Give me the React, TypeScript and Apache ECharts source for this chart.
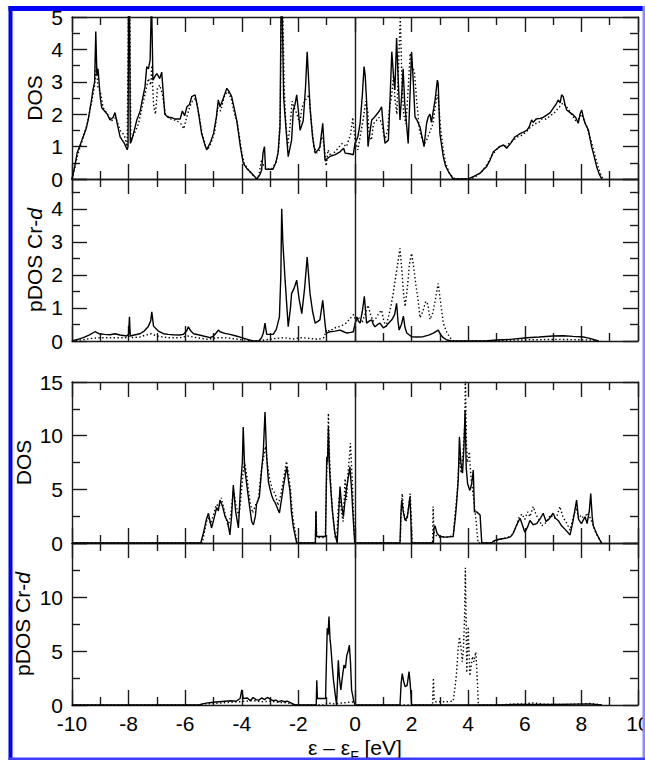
import React, { useEffect, useRef } from 'react';
import * as echarts from 'echarts';

const FONT = '"Liberation Sans", Arial, Helvetica, sans-serif';

// x tick labels (eV)
const xTickLabels = [-10, -8, -6, -4, -2, 0, 2, 4, 6, 8, 10];
// y axis ranges per panel: [min, max, interval]
const yRange1 = [0, 5, 1];
const yRange2 = [0, 4.9, 1];
const yRange3 = [0, 15, 5];
const yRange4 = [0, 15, 5];
const yNames = ['DOS', 'pDOS Cr-d', 'DOS', 'pDOS Cr-d'];

// Panel 1: total DOS (solid / dotted)
const dos1Solid: number[][] = [
  [-10, 0], [-9.9, 0.4], [-9.82, 0.8], [-9.65, 1.2], [-9.5, 1.55], [-9.43, 1.82], [-9.3, 2.5], [-9.26, 2.75], [-9.2, 3.0], [-9.16, 4.55], [-9.12, 3.2], [-9.08, 3.4], [-9.0, 2.5], [-8.95, 2.2], [-8.85, 2.1], [-8.75, 2.0], [-8.66, 1.82], [-8.55, 1.9], [-8.48, 2.05], [-8.4, 1.7], [-8.3, 1.3], [-8.15, 1.1], [-8.05, 0.9], [-8.02, 1.0], [-8.0, 5.6], [-7.97, 5.6], [-7.94, 1.1], [-7.89, 1.2], [-7.8, 1.5], [-7.71, 1.82], [-7.59, 2.1], [-7.5, 2.5], [-7.42, 2.85], [-7.36, 3.47], [-7.3, 3.4], [-7.24, 3.67], [-7.19, 5.6], [-7.17, 5.6], [-7.14, 3.05], [-7.05, 3.2], [-7.0, 3.25], [-6.9, 3.1], [-6.83, 3.3], [-6.72, 2.0], [-6.6, 1.9], [-6.5, 1.9], [-6.35, 1.85], [-6.18, 1.85], [-6.1, 2.1], [-6.02, 1.95], [-5.94, 2.23], [-5.85, 2.3], [-5.77, 2.54], [-5.65, 2.6], [-5.54, 2.1], [-5.42, 1.4], [-5.3, 1.05], [-5.24, 0.9], [-5.1, 1.15], [-5.0, 1.4], [-4.9, 1.9], [-4.83, 2.44], [-4.77, 2.23], [-4.65, 2.5], [-4.53, 2.8], [-4.45, 2.7], [-4.36, 2.55], [-4.25, 2.1], [-4.18, 1.82], [-4.05, 1.0], [-3.95, 0.49], [-3.8, 0.3], [-3.71, 0.23], [-3.55, 0.08], [-3.47, 0.0], [-3.35, 0.15], [-3.3, 0.28], [-3.25, 0.8], [-3.2, 1.0], [-3.16, 0.3], [-3.0, 0.3], [-2.9, 0.3], [-2.8, 0.5], [-2.72, 0.8], [-2.65, 1.6], [-2.61, 5.6], [-2.58, 5.6], [-2.52, 2.5], [-2.47, 1.92], [-2.36, 0.69], [-2.24, 1.2], [-2.18, 2.13], [-2.12, 2.3], [-2.06, 2.6], [-2.0, 2.1], [-1.94, 1.5], [-1.83, 1.8], [-1.75, 2.8], [-1.69, 3.93], [-1.59, 2.22], [-1.5, 1.3], [-1.41, 0.8], [-1.3, 0.9], [-1.24, 1.0], [-1.14, 1.72], [-1.06, 0.58], [-0.95, 0.65], [-0.88, 0.7], [-0.7, 0.75], [-0.53, 0.84], [-0.4, 0.95], [-0.35, 0.8], [-0.2, 0.78], [-0.06, 0.75], [0, 1.1], [0.1, 1.3], [0.18, 1.72], [0.26, 2.6], [0.32, 3.47], [0.36, 3.2], [0.41, 2.4], [0.46, 1.0], [0.52, 1.4], [0.59, 1.82], [0.68, 1.9], [0.77, 2.0], [0.86, 2.1], [0.94, 2.23], [1.0, 1.6], [1.06, 1.1], [1.18, 1.2], [1.24, 2.5], [1.3, 3.93], [1.36, 3.2], [1.41, 2.75], [1.47, 4.35], [1.53, 3.0], [1.59, 1.82], [1.65, 2.6], [1.7, 3.4], [1.76, 2.3], [1.83, 1.6], [1.88, 1.1], [1.94, 2.5], [2.0, 3.93], [2.06, 3.0], [2.12, 1.92], [2.2, 1.8], [2.3, 1.6], [2.44, 1.0], [2.53, 1.72], [2.59, 1.92], [2.65, 2.0], [2.7, 1.75], [2.83, 2.44], [2.91, 3.05], [2.94, 2.95], [3.0, 1.4], [3.12, 0.69], [3.2, 0.4], [3.3, 0.23], [3.47, 0], [4.0, 0], [4.2, 0.08], [4.42, 0.18], [4.55, 0.3], [4.65, 0.38], [4.78, 0.6], [4.89, 0.84], [5.0, 0.92], [5.12, 1.0], [5.25, 1.05], [5.36, 0.95], [5.5, 1.1], [5.65, 1.3], [5.75, 1.35], [5.83, 1.4], [5.95, 1.45], [6.07, 1.5], [6.15, 1.6], [6.24, 1.82], [6.3, 1.75], [6.4, 1.85], [6.54, 1.87], [6.65, 1.9], [6.77, 1.97], [6.9, 2.05], [7.0, 2.18], [7.1, 2.3], [7.18, 2.44], [7.25, 2.35], [7.3, 2.6], [7.36, 2.54], [7.42, 2.3], [7.48, 2.13], [7.6, 2.05], [7.72, 1.97], [7.8, 1.9], [7.89, 1.72], [7.95, 2.0], [8.01, 2.13], [8.07, 1.9], [8.13, 1.72], [8.25, 1.5], [8.36, 1.0], [8.45, 0.7], [8.54, 0.38], [8.63, 0.15], [8.72, 0]
];
const dos1Dotted: number[][] = [
  [-10, 0], [-9.9, 0.35], [-9.8, 0.75], [-9.65, 1.15], [-9.45, 1.75], [-9.3, 2.4], [-9.2, 2.9], [-9.14, 3.5], [-9.08, 2.8], [-9.0, 2.7], [-8.9, 2.2], [-8.75, 2.0], [-8.6, 1.8], [-8.45, 1.9], [-8.3, 1.5], [-8.15, 1.35], [-8.05, 1.0], [-8.0, 5.6], [-7.96, 5.6], [-7.92, 1.2], [-7.8, 1.4], [-7.65, 1.7], [-7.5, 2.3], [-7.4, 2.7], [-7.3, 3.1], [-7.22, 2.9], [-7.18, 3.5], [-7.12, 2.3], [-7.05, 2.0], [-6.98, 2.8], [-6.9, 2.9], [-6.8, 2.6], [-6.7, 2.0], [-6.5, 1.85], [-6.3, 1.8], [-6.15, 1.7], [-6.05, 1.55], [-5.95, 1.9], [-5.85, 2.2], [-5.75, 2.4], [-5.62, 2.5], [-5.5, 1.9], [-5.4, 1.4], [-5.28, 1.0], [-5.2, 0.9], [-5.05, 1.2], [-4.95, 1.5], [-4.85, 2.2], [-4.75, 2.1], [-4.6, 2.6], [-4.5, 2.7], [-4.38, 2.5], [-4.25, 2.0], [-4.15, 1.7], [-4.0, 0.8], [-3.9, 0.45], [-3.7, 0.2], [-3.5, 0.02], [-3.4, 0.1], [-3.3, 0.6], [-3.25, 0.45], [-3.15, 0.3], [-2.95, 0.3], [-2.8, 0.5], [-2.7, 0.9], [-2.64, 2.0], [-2.6, 5.6], [-2.56, 5.6], [-2.5, 2.8], [-2.45, 1.8], [-2.38, 1.0], [-2.3, 1.6], [-2.22, 2.4], [-2.15, 2.2], [-2.05, 2.0], [-1.95, 1.7], [-1.88, 2.2], [-1.78, 2.4], [-1.7, 2.5], [-1.62, 2.6], [-1.55, 1.8], [-1.45, 1.0], [-1.35, 0.8], [-1.25, 0.9], [-1.18, 1.3], [-1.1, 1.1], [-1.02, 0.4], [-0.95, 0.9], [-0.85, 0.7], [-0.7, 0.85], [-0.55, 1.0], [-0.45, 1.1], [-0.3, 1.0], [-0.15, 1.4], [-0.08, 1.9], [0.0, 1.2], [0.1, 0.9], [0.2, 1.4], [0.3, 1.9], [0.38, 2.4], [0.45, 2.1], [0.5, 1.4], [0.58, 1.2], [0.65, 1.7], [0.75, 1.8], [0.85, 1.9], [0.95, 1.7], [1.05, 1.2], [1.15, 1.5], [1.22, 2.2], [1.3, 2.6], [1.36, 3.2], [1.42, 2.4], [1.48, 2.0], [1.54, 3.6], [1.6, 4.97], [1.66, 3.0], [1.72, 2.0], [1.8, 1.7], [1.88, 2.8], [1.95, 3.88], [2.02, 3.5], [2.1, 3.3], [2.18, 2.4], [2.28, 1.5], [2.38, 1.2], [2.46, 1.1], [2.53, 1.2], [2.62, 1.4], [2.75, 1.7], [2.83, 2.2], [2.9, 2.6], [2.95, 2.4], [3.02, 1.6], [3.12, 0.9], [3.2, 0.5], [3.32, 0.2], [3.45, 0.05], [3.55, 0], [4.1, 0], [4.3, 0.1], [4.5, 0.25], [4.7, 0.5], [4.85, 0.75], [5.0, 0.9], [5.15, 1.05], [5.3, 1.0], [5.45, 1.1], [5.6, 1.2], [5.75, 1.3], [5.9, 1.35], [6.05, 1.45], [6.2, 1.6], [6.35, 1.7], [6.5, 1.75], [6.6, 1.85], [6.75, 1.85], [6.9, 1.95], [7.05, 2.05], [7.2, 2.2], [7.35, 2.35], [7.5, 2.2], [7.65, 2.0], [7.8, 1.8], [7.9, 1.85], [8.0, 2.0], [8.1, 1.8], [8.2, 1.6], [8.3, 1.3], [8.4, 1.0], [8.5, 0.65], [8.6, 0.35], [8.7, 0.1], [8.78, 0]
];

// Panel 2: Cr-d projected DOS
const pdos2Solid: number[][] = [
  [-10, 0], [-9.8, 0.05], [-9.6, 0.1], [-9.4, 0.18], [-9.19, 0.28], [-9.05, 0.22], [-8.85, 0.2], [-8.66, 0.19], [-8.48, 0.22], [-8.3, 0.18], [-8.07, 0.15], [-8.0, 0.2], [-7.97, 0.73], [-7.94, 0.15], [-7.8, 0.18], [-7.6, 0.22], [-7.45, 0.3], [-7.31, 0.43], [-7.22, 0.6], [-7.18, 0.88], [-7.12, 0.45], [-6.95, 0.3], [-6.77, 0.22], [-6.6, 0.2], [-6.42, 0.19], [-6.2, 0.18], [-6.07, 0.2], [-5.95, 0.3], [-5.89, 0.43], [-5.8, 0.3], [-5.7, 0.22], [-5.5, 0.18], [-5.36, 0.15], [-5.12, 0.1], [-5.0, 0.15], [-4.9, 0.25], [-4.83, 0.33], [-4.77, 0.28], [-4.6, 0.23], [-4.42, 0.2], [-4.2, 0.15], [-4.0, 0.1], [-3.8, 0.05], [-3.6, 0], [-3.4, 0], [-3.3, 0.1], [-3.24, 0.24], [-3.18, 0.54], [-3.12, 0.2], [-3.0, 0.2], [-2.89, 0.2], [-2.78, 0.35], [-2.67, 0.73], [-2.62, 2.0], [-2.59, 4.0], [-2.55, 3.0], [-2.47, 1.84], [-2.36, 0.43], [-2.28, 1.0], [-2.24, 1.44], [-2.15, 1.6], [-2.06, 1.84], [-1.98, 1.3], [-1.88, 0.83], [-1.78, 1.6], [-1.69, 2.54], [-1.59, 1.44], [-1.5, 0.9], [-1.41, 0.54], [-1.3, 0.6], [-1.24, 0.64], [-1.14, 1.23], [-1.06, 0.54], [-1.02, 0.24], [-0.88, 0.28], [-0.7, 0.3], [-0.53, 0.33], [-0.4, 0.28], [-0.29, 0.24], [-0.15, 0.26], [-0.06, 0.28], [0.06, 0.73], [0.12, 0.6], [0.18, 0.54], [0.26, 0.9], [0.33, 1.35], [0.41, 0.54], [0.5, 0.6], [0.59, 0.64], [0.65, 0.5], [0.71, 0.43], [0.8, 0.5], [0.88, 0.54], [1.0, 0.4], [1.1, 0.45], [1.2, 0.55], [1.3, 0.64], [1.4, 0.8], [1.47, 1.14], [1.52, 0.6], [1.56, 0.33], [1.64, 0.5], [1.71, 0.75], [1.77, 0.4], [1.83, 0.24], [2.0, 0.13], [2.2, 0.12], [2.41, 0.13], [2.6, 0.18], [2.77, 0.24], [2.94, 0.33], [3.02, 0.2], [3.12, 0.1], [3.25, 0.03], [3.42, 0], [4.6, 0], [5.0, 0.03], [5.5, 0.05], [6.07, 0.1], [6.5, 0.12], [7.0, 0.15], [7.36, 0.16], [7.7, 0.14], [8.07, 0.12], [8.3, 0.08], [8.6, 0]
];
const pdos2Dotted: number[][] = [
  [-10, 0], [-9.7, 0.03], [-9.3, 0.08], [-9.0, 0.1], [-8.7, 0.1], [-8.4, 0.1], [-8.1, 0.1], [-8.0, 0.15], [-7.9, 0.1], [-7.6, 0.12], [-7.4, 0.18], [-7.2, 0.22], [-7.0, 0.15], [-6.6, 0.1], [-6.2, 0.1], [-5.9, 0.15], [-5.6, 0.1], [-5.2, 0.05], [-4.9, 0.1], [-4.6, 0.1], [-4.2, 0.06], [-3.8, 0.02], [-3.5, 0], [-3.2, 0.03], [-2.8, 0.08], [-2.5, 0.1], [-2.2, 0.06], [-1.9, 0.1], [-1.6, 0.08], [-1.3, 0.05], [-1.1, 0.1], [-1.0, 0.35], [-0.9, 0.3], [-0.7, 0.4], [-0.5, 0.45], [-0.3, 0.55], [-0.15, 0.7], [-0.05, 0.8], [0.05, 0.6], [0.15, 0.7], [0.25, 0.55], [0.35, 0.8], [0.46, 1.08], [0.55, 0.8], [0.64, 0.6], [0.75, 0.7], [0.85, 0.85], [0.94, 0.93], [1.02, 0.6], [1.1, 0.43], [1.2, 0.8], [1.28, 1.1], [1.35, 1.44], [1.43, 1.9], [1.52, 2.4], [1.59, 2.8], [1.65, 2.2], [1.72, 1.4], [1.77, 1.04], [1.85, 1.6], [1.92, 2.3], [2.0, 2.65], [2.08, 2.2], [2.15, 1.7], [2.22, 1.3], [2.3, 0.7], [2.4, 0.9], [2.5, 1.2], [2.58, 1.1], [2.65, 0.65], [2.75, 0.85], [2.85, 1.3], [2.94, 1.74], [3.02, 1.2], [3.12, 0.54], [3.25, 0.25], [3.36, 0.1], [3.5, 0], [4.8, 0], [5.2, 0.02], [5.8, 0.03], [6.5, 0.04], [7.2, 0.05], [7.8, 0.04], [8.3, 0.03], [8.7, 0]
];

// Panel 3: total DOS (second system)
const dos3Solid: number[][] = [
  [-10, 0], [-5.45, 0], [-5.35, 1.0], [-5.25, 2.2], [-5.18, 2.77], [-5.12, 2.0], [-5.07, 1.4], [-4.98, 2.3], [-4.89, 3.3], [-4.83, 3.0], [-4.77, 4.0], [-4.68, 3.4], [-4.59, 2.45], [-4.5, 2.0], [-4.42, 0.75], [-4.36, 2.5], [-4.3, 5.4], [-4.22, 3.0], [-4.12, 1.4], [-4.04, 5.5], [-3.98, 7.5], [-3.95, 10.8], [-3.9, 7.0], [-3.85, 6.0], [-3.78, 4.5], [-3.71, 3.1], [-3.65, 2.0], [-3.59, 1.68], [-3.52, 2.5], [-3.48, 3.6], [-3.38, 4.3], [-3.3, 6.8], [-3.24, 8.5], [-3.18, 12.2], [-3.12, 8.0], [-3.06, 5.7], [-3.0, 5.0], [-2.94, 4.4], [-2.88, 4.0], [-2.83, 3.8], [-2.75, 3.3], [-2.67, 2.8], [-2.6, 4.0], [-2.53, 5.25], [-2.45, 6.5], [-2.41, 7.1], [-2.35, 5.8], [-2.3, 4.9], [-2.25, 3.0], [-2.18, 1.5], [-2.1, 0.5], [-2.06, 0], [-1.4, 0], [-1.38, 2.9], [-1.36, 0.6], [-1.04, 0.6], [-1.0, 8.0], [-0.97, 7.5], [-0.94, 10.8], [-0.9, 7.0], [-0.88, 6.0], [-0.8, 3.0], [-0.71, 0.9], [-0.63, 0], [-0.58, 2.5], [-0.53, 5.25], [-0.47, 3.5], [-0.41, 2.45], [-0.35, 4.0], [-0.29, 5.25], [-0.23, 6.2], [-0.18, 7.1], [-0.12, 5.0], [-0.08, 3.0], [-0.01, 0], [1.59, 0], [1.62, 2.5], [1.65, 4.0], [1.7, 3.0], [1.77, 2.1], [1.85, 2.4], [1.94, 4.3], [1.97, 2.5], [2.0, 0], [2.77, 0], [2.79, 1.4], [2.83, 1.6], [2.9, 0.9], [3.0, 0.6], [3.2, 0.55], [3.47, 0.6], [3.55, 2.5], [3.59, 3.7], [3.65, 6.0], [3.69, 9.9], [3.74, 7.5], [3.8, 6.5], [3.85, 9.0], [3.89, 12.4], [3.93, 7.0], [3.98, 5.5], [4.06, 4.9], [4.12, 5.5], [4.18, 6.8], [4.22, 2.9], [4.3, 2.9], [4.42, 2.6], [4.48, 0], [4.83, 0], [4.9, 0.2], [5.0, 0.3], [5.2, 0.4], [5.36, 0.45], [5.5, 0.6], [5.59, 0.9], [5.7, 1.6], [5.83, 2.3], [5.9, 1.8], [6.0, 1.0], [6.1, 1.5], [6.18, 2.1], [6.3, 1.7], [6.42, 1.8], [6.55, 2.3], [6.65, 2.77], [6.75, 2.0], [6.85, 2.2], [7.0, 2.77], [7.08, 2.3], [7.18, 2.1], [7.3, 1.6], [7.45, 1.2], [7.6, 0.75], [7.7, 2.0], [7.83, 4.0], [7.9, 2.2], [8.0, 1.8], [8.13, 2.45], [8.2, 1.8], [8.28, 3.0], [8.33, 4.6], [8.38, 2.5], [8.42, 1.6], [8.55, 0.8], [8.65, 0.3], [8.72, 0]
];
const dos3Dotted: number[][] = [
  [-10, 0], [-5.4, 0], [-5.3, 1.3], [-5.2, 2.5], [-5.1, 1.8], [-5.0, 2.6], [-4.9, 3.6], [-4.8, 3.4], [-4.72, 4.2], [-4.6, 2.8], [-4.48, 1.5], [-4.38, 2.8], [-4.3, 5.0], [-4.2, 3.5], [-4.1, 2.5], [-4.02, 4.5], [-3.96, 6.5], [-3.9, 7.5], [-3.82, 6.2], [-3.72, 4.0], [-3.62, 2.8], [-3.52, 3.5], [-3.42, 4.0], [-3.32, 6.5], [-3.24, 7.8], [-3.16, 9.0], [-3.1, 7.5], [-3.02, 6.0], [-2.92, 5.0], [-2.82, 4.6], [-2.72, 3.5], [-2.62, 4.5], [-2.52, 6.0], [-2.42, 7.6], [-2.35, 6.5], [-2.28, 5.0], [-2.2, 2.5], [-2.1, 0.8], [-2.03, 0], [-1.4, 0], [-1.38, 3.0], [-1.35, 0.5], [-1.05, 0.5], [-1.0, 6.5], [-0.96, 9.0], [-0.94, 12.1], [-0.9, 8.0], [-0.85, 5.0], [-0.78, 2.5], [-0.7, 0.5], [-0.64, 0.5], [-0.6, 3.0], [-0.55, 4.5], [-0.48, 3.0], [-0.42, 2.0], [-0.35, 6.0], [-0.3, 4.0], [-0.25, 6.5], [-0.2, 8.0], [-0.16, 9.3], [-0.1, 6.0], [-0.05, 2.5], [0.0, 0], [1.6, 0], [1.63, 3.0], [1.67, 4.6], [1.72, 2.8], [1.8, 2.0], [1.88, 3.0], [1.95, 4.6], [1.99, 2.5], [2.02, 0], [2.74, 0], [2.76, 3.4], [2.79, 1.0], [2.9, 0.6], [3.0, 0.55], [3.3, 0.55], [3.47, 0.7], [3.55, 3.0], [3.62, 5.0], [3.68, 8.0], [3.75, 6.5], [3.82, 8.5], [3.88, 11.0], [3.9, 15.5], [3.94, 9.0], [3.98, 7.5], [4.04, 8.5], [4.1, 6.0], [4.15, 5.0], [4.2, 4.0], [4.28, 2.0], [4.35, 0], [4.85, 0], [5.0, 0.25], [5.2, 0.4], [5.5, 0.6], [5.65, 1.2], [5.8, 2.4], [5.9, 2.7], [6.0, 2.2], [6.1, 2.9], [6.18, 2.45], [6.3, 3.4], [6.4, 2.6], [6.5, 2.2], [6.6, 1.6], [6.75, 1.9], [6.9, 2.6], [7.05, 2.3], [7.15, 2.6], [7.24, 3.4], [7.35, 2.4], [7.45, 2.0], [7.6, 1.2], [7.72, 2.5], [7.82, 3.3], [7.9, 2.3], [8.0, 2.6], [8.1, 2.2], [8.2, 2.8], [8.3, 2.4], [8.4, 1.8], [8.5, 1.0], [8.6, 0.5], [8.7, 0]
];

// Panel 4: Cr-d projected DOS (second system)
const pdos4Solid: number[][] = [
  [-10, 0], [-5.5, 0], [-5.4, 0.1], [-5.2, 0.2], [-5.0, 0.25], [-4.8, 0.3], [-4.6, 0.35], [-4.4, 0.4], [-4.2, 0.35], [-4.06, 0.6], [-4.0, 1.4], [-3.95, 0.6], [-3.8, 0.65], [-3.7, 0.4], [-3.6, 0.7], [-3.5, 0.5], [-3.4, 0.45], [-3.3, 0.65], [-3.2, 0.5], [-3.1, 0.7], [-3.0, 0.55], [-2.9, 0.4], [-2.8, 0.45], [-2.7, 0.3], [-2.6, 0.4], [-2.5, 0.3], [-2.4, 0.35], [-2.3, 0.25], [-2.2, 0.1], [-2.1, 0], [-1.37, 0], [-1.35, 2.3], [-1.33, 0.6], [-1.04, 0.6], [-1.01, 4.0], [-0.98, 7.1], [-0.95, 6.5], [-0.92, 8.2], [-0.88, 6.0], [-0.86, 5.6], [-0.8, 3.5], [-0.76, 2.3], [-0.7, 1.0], [-0.65, 0], [-0.62, 2.0], [-0.59, 4.15], [-0.55, 2.5], [-0.5, 1.4], [-0.45, 2.5], [-0.39, 3.7], [-0.34, 3.4], [-0.29, 4.6], [-0.24, 5.0], [-0.2, 5.55], [-0.16, 4.0], [-0.12, 1.4], [-0.04, 0.3], [0, 0], [1.59, 0], [1.63, 2.0], [1.67, 2.9], [1.72, 2.2], [1.77, 1.7], [1.84, 1.8], [1.91, 3.1], [1.95, 2.0], [2.0, 0], [5.0, 0], [5.6, 0.04], [6.2, 0.06], [7.0, 0.05], [7.8, 0.08], [8.3, 0.1], [8.7, 0]
];
const pdos4Dotted: number[][] = [
  [-10, 0], [-5.5, 0], [-5.3, 0.1], [-5.0, 0.15], [-4.7, 0.2], [-4.4, 0.25], [-4.1, 0.3], [-3.9, 0.35], [-3.6, 0.4], [-3.3, 0.3], [-3.0, 0.35], [-2.7, 0.25], [-2.4, 0.2], [-2.15, 0.05], [-2.0, 0], [-1.1, 0], [-0.95, 0.2], [-0.8, 0.1], [-0.4, 0.2], [-0.1, 0.3], [0, 0], [2.74, 0], [2.77, 2.5], [2.8, 0.5], [2.85, 0.3], [3.2, 0.3], [3.47, 0.35], [3.55, 2.0], [3.59, 3.0], [3.64, 5.0], [3.69, 6.3], [3.74, 5.5], [3.79, 4.0], [3.83, 5.1], [3.87, 8.0], [3.9, 12.7], [3.93, 7.0], [3.95, 3.0], [4.0, 7.25], [4.03, 5.0], [4.06, 2.7], [4.1, 3.5], [4.15, 4.5], [4.2, 4.0], [4.27, 4.9], [4.31, 3.0], [4.36, 0], [5.0, 0], [5.5, 0.08], [6.0, 0.1], [6.3, 0.2], [6.6, 0.08], [7.0, 0.05], [7.5, 0.05], [8.0, 0.1], [8.3, 0.15], [8.6, 0.05], [8.8, 0]
];

const panelSolid = [dos1Solid, pdos2Solid, dos3Solid, pdos4Solid];
const panelDotted = [dos1Dotted, pdos2Dotted, dos3Dotted, pdos4Dotted];
const panelY = [yRange1, yRange2, yRange3, yRange4];

const W = 645;
const H = 760;
const LEFT = 72;
const RIGHT_EDGE = 638;
const GRID_BOX = [
  { top: 17, height: 162 },
  { top: 179, height: 162 },
  { top: 382, height: 161 },
  { top: 543, height: 162 },
];
const NAME_X = [34, 34, 23.5, 22.5];

const AX = '#1a1a1a';
const AXW = 1.4;

function buildOption() {
  const grid = GRID_BOX.map((g) => ({
    left: LEFT,
    width: RIGHT_EDGE - LEFT,
    top: g.top,
    height: g.height,
    containLabel: false,
    outerBoundsMode: 'none',
  }));

  const xAxis: any[] = [];
  const yAxis: any[] = [];
  const series: any[] = [];

  GRID_BOX.forEach((g, i) => {
    const common = {
      type: 'value',
      gridIndex: i,
      min: xTickLabels[0],
      max: xTickLabels[xTickLabels.length - 1],
      interval: 2,
      axisLine: { show: true, onZero: false, lineStyle: { color: AX, width: AXW } },
      axisTick: { show: true, inside: true, length: 15, lineStyle: { color: AX, width: AXW } },
      minorTick: { show: true, splitNumber: 2, length: 8, lineStyle: { color: AX, width: AXW } },
      splitLine: { show: false },
      minorSplitLine: { show: false },
    };
    xAxis.push({
      ...common,
      position: 'bottom',
      axisLabel: {
        show: i === 3,
        margin: 8,
        color: '#000',
        fontSize: 21,
        fontFamily: FONT,
        hideOverlap: false,
      },
    });
    xAxis.push({ ...common, position: 'top', axisLabel: { show: false } });

    const [ymin, ymax, yint] = panelY[i];
    const ycommon = {
      type: 'value',
      gridIndex: i,
      min: ymin,
      max: ymax,
      interval: yint,
      axisLine: { show: true, onZero: false, lineStyle: { color: AX, width: AXW } },
      axisTick: { show: true, inside: true, length: 15, lineStyle: { color: AX, width: AXW } },
      minorTick: { show: true, splitNumber: 2, length: 8, lineStyle: { color: AX, width: AXW } },
      splitLine: { show: false },
      minorSplitLine: { show: false },
    };
    yAxis.push({
      ...ycommon,
      position: 'left',
      axisLabel: {
        show: true,
        margin: 9,
        color: '#000',
        fontSize: 21,
        fontFamily: FONT,
        formatter: (v: number) => {
          if (Math.abs(v - Math.round(v)) > 1e-6) return '';
          if (i === 3 && v === 15) return '';
          return String(v);
        },
      },
    });
    yAxis.push({ ...ycommon, position: 'right', axisLabel: { show: false } });

    series.push({
      type: 'line',
      xAxisIndex: 2 * i,
      yAxisIndex: 2 * i,
      data: panelSolid[i],
      symbol: 'none',
      showSymbol: false,
      silent: true,
      clip: true,
      lineStyle: { color: '#000', width: 1.4 },
      z: 3,
      markLine: {
        silent: true,
        symbol: ['none', 'none'],
        label: { show: false },
        lineStyle: { color: AX, width: AXW, type: 'solid' },
        data: [{ xAxis: 0 }],
      },
    });
    series.push({
      type: 'line',
      xAxisIndex: 2 * i,
      yAxisIndex: 2 * i,
      data: panelDotted[i],
      symbol: 'none',
      showSymbol: false,
      silent: true,
      clip: true,
      lineStyle: { color: '#000', width: 1.4, type: [1.4, 2.4] },
      z: 2,
    });
  });

  const nameFont = { fontSize: 21, fontFamily: FONT, fill: '#000' };
  const graphic: any[] = [];
  GRID_BOX.forEach((g, i) => {
    const isP = yNames[i].startsWith('pDOS');
    graphic.push({
      type: 'text',
      x: NAME_X[i],
      y: g.top + g.height / 2,
      rotation: Math.PI / 2,
      silent: true,
      style: isP
        ? {
            text: '{a|pDOS Cr-}{b|d}',
            align: 'center',
            verticalAlign: 'middle',
            rich: {
              a: { ...nameFont },
              b: { ...nameFont, fontStyle: 'italic' },
            },
          }
        : {
            text: yNames[i],
            align: 'center',
            verticalAlign: 'middle',
            ...nameFont,
          },
    });
  });

  graphic.push({
    type: 'text',
    x: 355,
    y: 747.5,
    silent: true,
    style: {
      text: '{a|ε – ε}{s|F}{a| [eV]}',
      align: 'center',
      verticalAlign: 'middle',
      rich: {
        a: { ...nameFont, lineHeight: 30, verticalAlign: 'middle' },
        s: { fontSize: 14, fontFamily: FONT, fill: '#000', lineHeight: 30, verticalAlign: 'bottom' },
      },
    },
  });

  // blue frame around the figure
  graphic.push({ type: 'rect', silent: true, z: 100, shape: { x: 8.5, y: 6, width: 4, height: H - 6 }, style: { fill: '#0000ff' } });
  graphic.push({ type: 'rect', silent: true, z: 100, shape: { x: 8.5, y: 6, width: W - 8.5, height: 5 }, style: { fill: '#0000ff' } });
  graphic.push({ type: 'rect', silent: true, z: 100, shape: { x: 642.5, y: 6, width: 2.5, height: H - 6 }, style: { fill: '#8c8cff' } });
  graphic.push({ type: 'rect', silent: true, z: 100, shape: { x: 8.5, y: 757.5, width: W - 8.5, height: 2.5 }, style: { fill: '#3c3cff' } });

  return {
    animation: false,
    backgroundColor: '#ffffff',
    textStyle: { fontFamily: FONT },
    grid,
    xAxis,
    yAxis,
    series,
    graphic,
  };
}

export default function App() {
  const ref = useRef<HTMLDivElement>(null);
  useEffect(() => {
    if (!ref.current) return;
    const chart = echarts.init(ref.current, null, { renderer: 'svg', width: W, height: H });
    chart.setOption(buildOption() as any);
    return () => chart.dispose();
  }, []);
  return (
    <div
      ref={ref}
      style={{ position: 'absolute', left: 0, top: 0, width: W, height: H, background: '#fff' }}
    />
  );
}
